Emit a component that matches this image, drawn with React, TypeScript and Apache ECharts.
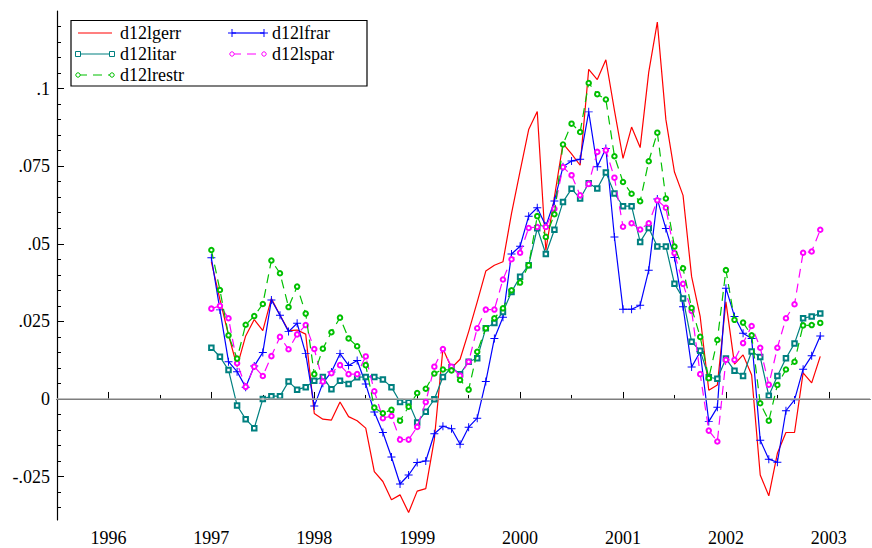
import React, { useEffect, useRef } from "react";
import * as echarts from "echarts";

// Monthly data, first observation January 1997
const START_YEAR = 1997;

const d12lgerr = [
  0.0442, 0.032, 0.0206, 0.0104, 0.0203, 0.0256, 0.022, 0.0324, 0.027, 0.022, 0.0222, 0.0209,
  -0.0047, -0.0065, -0.0068, -0.001, -0.0057, -0.007, -0.0094, -0.0234, -0.0266, -0.0325, -0.0309, -0.0366,
  -0.0297, -0.0289, -0.013, 0.0162, 0.01, 0.0128, 0.0217, 0.0313, 0.0412, 0.0431, 0.0442, 0.0598,
  0.0734, 0.0868, 0.0926, 0.0479, 0.065, 0.0823, 0.079, 0.0753, 0.1062, 0.1029, 0.1093, 0.093,
  0.0775, 0.0876, 0.081, 0.1053, 0.1214, 0.09, 0.0731, 0.0656, 0.0394, 0.0265, 0.0028, 0.0045,
  0.0313, 0.0112, 0.0142, 0.0077, -0.0245, -0.0312, -0.0175, -0.0108, -0.0108, 0.0084, 0.0052, 0.0137,
];

const d12lfrar = [
  0.0455, 0.0287, 0.012, 0.0088, 0.0038, 0.0106, 0.015, 0.0319, 0.027, 0.0217, 0.0244, 0.0146,
  -0.0023, 0.0051, 0.0087, 0.0146, 0.0108, 0.0124, 0.0048, -0.0042, -0.0108, -0.0187, -0.0274, -0.0245,
  -0.0205, -0.02, -0.0112, -0.0088, -0.0096, -0.0146, -0.0091, -0.0062, 0.0056, 0.0195, 0.0263, 0.0467,
  0.0492, 0.0589, 0.0616, 0.0557, 0.0638, 0.0748, 0.0767, 0.0772, 0.0925, 0.0748, 0.0807, 0.0522,
  0.0289, 0.0289, 0.0302, 0.0415, 0.0644, 0.0549, 0.0456, 0.0297, 0.0103, 0.0152, -0.0073, -0.0027,
  0.0357, 0.0266, 0.0212, 0.0195, -0.0133, -0.0194, -0.0204, -0.0038, -0.0003, 0.0096, 0.0139, 0.0203,
];

const d12litar = [
  0.0165, 0.0136, 0.0093, -0.0021, -0.0065, -0.0094, 0.0, 0.0009, 0.0009, 0.0056, 0.003, 0.0038,
  0.0059, 0.0071, 0.0031, 0.0059, 0.0048, 0.007, 0.0071, 0.0071, 0.0063, 0.0038, -0.001, -0.0011,
  -0.0076, -0.0041, -0.0001, 0.0071, 0.0102, 0.008, 0.012, 0.0131, 0.0228, 0.0245, 0.028, 0.0345,
  0.0394, 0.0431, 0.055, 0.0467, 0.0545, 0.0635, 0.0677, 0.0646, 0.0695, 0.0678, 0.073, 0.0662,
  0.0621, 0.0621, 0.0506, 0.0551, 0.0491, 0.0491, 0.0371, 0.0324, 0.0184, 0.0155, 0.007, 0.0065,
  0.013, 0.0091, 0.0074, 0.0153, 0.0135, 0.001, 0.0074, 0.0131, 0.0179, 0.026, 0.0266, 0.0275,
];

const d12lspar = [
  0.0291, 0.03, 0.026, 0.0115, 0.0039, 0.0104, 0.0074, 0.0138, 0.02, 0.016, 0.0208, 0.0238,
  0.0161, 0.0056, 0.0083, 0.0109, 0.008, 0.008, 0.0137, 0.0025, -0.0062, -0.0055, -0.0131, -0.0131,
  -0.009, -0.001, 0.0104, 0.0161, 0.0104, 0.0075, 0.012, 0.0228, 0.0288, 0.0288, 0.0385, 0.045,
  0.0471, 0.0551, 0.0554, 0.0554, 0.0613, 0.0747, 0.0721, 0.0656, 0.0693, 0.0796, 0.0801, 0.0713,
  0.0555, 0.0566, 0.0546, 0.0566, 0.064, 0.0616, 0.047, 0.0371, 0.0284, 0.008, -0.0102, -0.0137,
  0.0126, 0.0126, 0.018, 0.0235, 0.0165, 0.0046, 0.0165, 0.026, 0.0305, 0.0471, 0.0475, 0.0545,
];

const d12lrestr = [
  0.048, 0.0351, 0.0205, 0.013, 0.0239, 0.0267, 0.0306, 0.0446, 0.0405, 0.0296, 0.0362, 0.0275,
  0.008, 0.0162, 0.0215, 0.0262, 0.0195, 0.017, 0.0109, -0.0028, -0.0046, -0.0035, -0.007, -0.0025,
  0.0019, 0.0033, 0.0082, 0.0095, 0.0092, 0.0061, 0.003, 0.0152, 0.0228, 0.026, 0.0292, 0.035,
  0.0375, 0.0431, 0.0589, 0.0522, 0.0595, 0.082, 0.0887, 0.086, 0.1018, 0.0982, 0.0965, 0.0782,
  0.0699, 0.0661, 0.0637, 0.0766, 0.0858, 0.0646, 0.0491, 0.0421, 0.0293, 0.02, 0.0067, 0.019,
  0.0415, 0.0255, 0.0246, 0.0205, -0.0014, -0.007, 0.0045, 0.0095, 0.012, 0.0237, 0.0238, 0.0245,
];

const xLabelYears = [1996, 1997, 1998, 1999, 2000, 2001, 2002, 2003];
const yLabelValues = [-0.025, 0, 0.025, 0.05, 0.075, 0.1];

const X_MIN = 1995.5;
const X_MAX = 2003.4;
const Y_MIN = -0.039;
const Y_MAX = 0.125;

const FONT = "'Liberation Serif', 'Times New Roman', 'DejaVu Serif', serif";

const RED = "#ff0000";
const BLUE = "#0000ff";
const TEAL = "#008080";
const MAGENTA = "#ff00ff";
const GREEN = "#00c000";

const PLUS =
  "path://M4.4,0h1.2v4.4h4.4v1.2h-4.4v4.4h-1.2v-4.4h-4.4v-1.2h4.4z";

function toPairs(values: number[]) {
  return values.map((v, i) => [START_YEAR + i / 12, v]);
}

function fmtY(v: number) {
  if (Math.abs(v) < 1e-12) return "0";
  const s = String(+v.toFixed(4));
  return s.replace(/^(-?)0\./, "$1.");
}

function range(a: number, b: number, step: number) {
  const out: number[] = [];
  const n = Math.round((b - a) / step);
  for (let i = 0; i <= n; i++) out.push(+(a + i * step).toFixed(6));
  return out;
}

export default function App() {
  const ref = useRef<HTMLDivElement>(null);

  useEffect(() => {
    const chart = echarts.init(ref.current!, null, { renderer: "svg" });

    const xMinor = range(1995.5, 2003, 0.5);
    const yMinor = range(-0.035, 0.12, 0.005);

    const grid = { left: 57, right: 2, top: 11, bottom: 28 };

    const legendRows = [33, 54, 75];
    const col1 = { x0: 78, x1: 112, tx: 120 };
    const col2 = { x0: 232, x1: 264, tx: 272 };
    const txt = (x: number, y: number, t: string) => ({
      type: "text",
      x,
      y,
      style: {
        text: t,
        fill: "#000",
        fontSize: 18,
        fontFamily: FONT,
        verticalAlign: "middle",
        align: "left",
      },
    });
    const ln = (x0: number, x1: number, y: number, color: string, dash?: number[]) => ({
      type: "line",
      shape: { x1: x0, y1: y, x2: x1, y2: y },
      style: { stroke: color, lineWidth: 1.2, lineDash: dash || null },
    });
    const sq = (x: number, y: number, color: string) => ({
      type: "rect",
      shape: { x: x - 2.5, y: y - 2.5, width: 5, height: 5 },
      style: { stroke: color, fill: "#fff", lineWidth: 1 },
    });
    const ci = (x: number, y: number, color: string) => ({
      type: "circle",
      shape: { cx: x, cy: y, r: 2.2 },
      style: { stroke: color, fill: "#fff", lineWidth: 1 },
    });
    const plus = (x: number, y: number, color: string) => [
      { type: "line", shape: { x1: x - 4, y1: y, x2: x + 4, y2: y }, style: { stroke: color, lineWidth: 1 } },
      { type: "line", shape: { x1: x, y1: y - 4, x2: x, y2: y + 4 }, style: { stroke: color, lineWidth: 1 } },
    ];

    const legendGraphics: any[] = [
      {
        type: "rect",
        shape: { x: 71, y: 20.5, width: 296, height: 65.5 },
        style: { fill: "#fff", stroke: "#000", lineWidth: 1.2 },
      },
      ln(col1.x0, col1.x1, legendRows[0], RED),
      txt(col1.tx, legendRows[0], "d12lgerr"),
      ln(col2.x0, col2.x1, legendRows[0], BLUE),
      ...plus(col2.x0, legendRows[0], BLUE),
      ...plus(col2.x1, legendRows[0], BLUE),
      txt(col2.tx, legendRows[0], "d12lfrar"),
      ln(col1.x0, col1.x1, legendRows[1], TEAL),
      sq(col1.x0, legendRows[1], TEAL),
      sq(col1.x1, legendRows[1], TEAL),
      txt(col1.tx, legendRows[1], "d12litar"),
      ln(col2.x0, col2.x1, legendRows[1], MAGENTA, [9, 6]),
      ci(col2.x0, legendRows[1], MAGENTA),
      ci(col2.x1, legendRows[1], MAGENTA),
      txt(col2.tx, legendRows[1], "d12lspar"),
      ln(col1.x0, col1.x1, legendRows[2], GREEN, [9, 6]),
      ci(col1.x0, legendRows[2], GREEN),
      ci(col1.x1, legendRows[2], GREEN),
      txt(col1.tx, legendRows[2], "d12lrestr"),
    ];

    const option: any = {
      animation: false,
      backgroundColor: "#fff",
      textStyle: { fontFamily: FONT },
      grid,
      xAxis: [
        {
          type: "value",
          min: X_MIN,
          max: X_MAX,
          axisLine: { show: true, lineStyle: { color: "#000", width: 1.2 } },
          axisTick: {
            show: true,
            inside: true,
            length: 7,
            lineStyle: { color: "#000", width: 1 },
            customValues: xLabelYears,
          },
          axisLabel: {
            show: true,
            customValues: xLabelYears,
            formatter: (v: number) => String(Math.round(v)),
            color: "#000",
            fontSize: 18,
            fontFamily: FONT,
            margin: 9,
          },
          splitLine: { show: false },
        },
        {
          type: "value",
          position: "bottom",
          min: X_MIN,
          max: X_MAX,
          axisLine: { show: false },
          axisTick: {
            show: true,
            inside: true,
            length: 4,
            lineStyle: { color: "#000", width: 1 },
            customValues: xMinor,
          },
          axisLabel: { show: false },
          splitLine: { show: false },
        },
      ],
      yAxis: [
        {
          type: "value",
          min: Y_MIN,
          max: Y_MAX,
          axisLine: { show: true, lineStyle: { color: "#000", width: 1.2 } },
          axisTick: {
            show: true,
            inside: true,
            length: 7,
            lineStyle: { color: "#000", width: 1 },
            customValues: yLabelValues,
          },
          axisLabel: {
            show: true,
            customValues: yLabelValues,
            formatter: fmtY,
            color: "#000",
            fontSize: 18,
            fontFamily: FONT,
            margin: 7,
          },
          splitLine: { show: false },
        },
        {
          type: "value",
          position: "left",
          min: Y_MIN,
          max: Y_MAX,
          axisLine: { show: false },
          axisTick: {
            show: true,
            inside: true,
            length: 4,
            lineStyle: { color: "#000", width: 1 },
            customValues: yMinor,
          },
          axisLabel: { show: false },
          splitLine: { show: false },
        },
      ],
      series: [
        {
          type: "line",
          name: "zero",
          data: [],
          z: 1,
          silent: true,
          markLine: {
            silent: true,
            symbol: "none",
            label: { show: false },
            lineStyle: { color: "#a8a8a8", width: 1.5, type: "solid" },
            data: [{ yAxis: 0 }],
          },
        },
        {
          type: "line",
          name: "d12lgerr",
          data: toPairs(d12lgerr),
          symbol: "none",
          showSymbol: false,
          z: 2,
          silent: true,
          lineStyle: { color: RED, width: 1.2 },
          itemStyle: { color: RED },
        },
        {
          type: "line",
          name: "d12lfrar",
          data: toPairs(d12lfrar),
          symbol: PLUS,
          symbolSize: 8,
          showAllSymbol: true,
          z: 3,
          silent: true,
          lineStyle: { color: BLUE, width: 1.2 },
          itemStyle: { color: BLUE },
        },
        {
          type: "line",
          name: "d12litar",
          data: toPairs(d12litar),
          symbol: "emptyRect",
          symbolSize: 4.5,
          showAllSymbol: true,
          z: 4,
          silent: true,
          lineStyle: { color: TEAL, width: 1.2 },
          itemStyle: { color: TEAL, borderColor: TEAL, borderWidth: 1 },
        },
        {
          type: "line",
          name: "d12lspar",
          data: toPairs(d12lspar),
          symbol: "emptyCircle",
          symbolSize: 4.5,
          showAllSymbol: true,
          z: 5,
          silent: true,
          lineStyle: { color: MAGENTA, width: 1.2, type: [9, 6] },
          itemStyle: { color: MAGENTA, borderColor: MAGENTA, borderWidth: 1 },
        },
        {
          type: "line",
          name: "d12lrestr",
          data: toPairs(d12lrestr),
          symbol: "emptyCircle",
          symbolSize: 4.5,
          showAllSymbol: true,
          z: 6,
          silent: true,
          lineStyle: { color: GREEN, width: 1.2, type: [9, 6] },
          itemStyle: { color: GREEN, borderColor: GREEN, borderWidth: 1 },
        },
      ],
      graphic: legendGraphics,
    };

    chart.setOption(option);
    return () => chart.dispose();
  }, []);

  return (
    <div
      ref={ref}
      style={{ position: "fixed", left: 0, top: 0, width: 872, height: 548, background: "#fff" }}
    />
  );
}
